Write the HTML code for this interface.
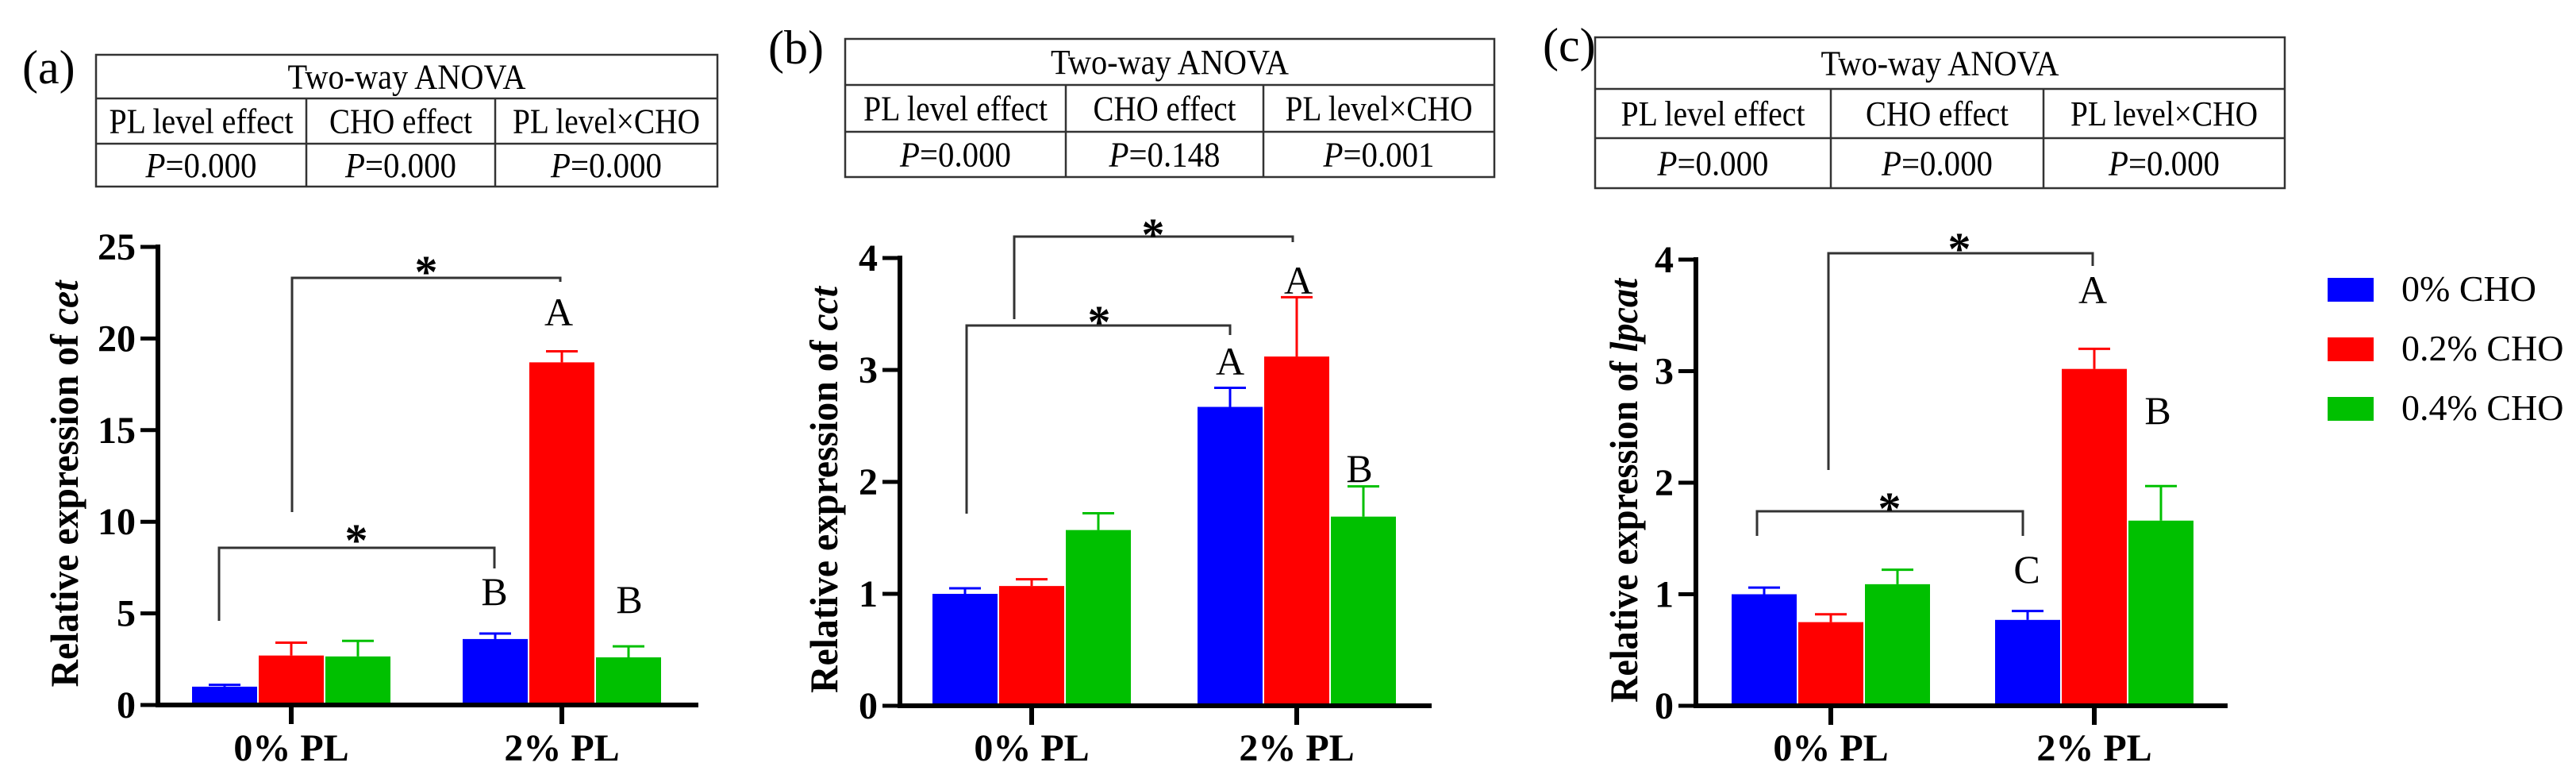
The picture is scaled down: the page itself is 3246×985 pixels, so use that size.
<!DOCTYPE html>
<html><head><meta charset="utf-8">
<style>
html,body{margin:0;padding:0;background:#fff;}
svg{display:block;font-family:"Liberation Serif","Times New Roman",serif;}
</style></head>
<body>
<svg id="fig" width="3246" height="985" viewBox="0 0 3246 985" xmlns="http://www.w3.org/2000/svg">
<g id="tables"></g>
<g id="charts"></g>
<g id="legend">
  <rect x="2933" y="350" width="58" height="30" fill="#0000ff"/>
  <text x="3026" y="379" font-size="46">0% CHO</text>
  <rect x="2933" y="425" width="58" height="30" fill="#ff0000"/>
  <text x="3026" y="454" font-size="46">0.2% CHO</text>
  <rect x="2933" y="500" width="58" height="30" fill="#00c000"/>
  <text x="3026" y="529" font-size="46">0.4% CHO</text>
</g>
</svg>
<script>
const categories = ["0% PL", "2% PL"];
const seriesNames = ["0% CHO", "0.2% CHO", "0.4% CHO"];
const colors = ["#0000ff", "#ff0000", "#00c000"];
// panel a (cet)
const aMeans = [[1.0, 2.7, 2.65], [3.6, 18.7, 2.6]];
const aErr = [[0.1, 0.7, 0.85], [0.3, 0.6, 0.6]];
const aTicks = [0, 5, 10, 15, 20, 25];
// panel b (cct)
const bMeans = [[1.0, 1.07, 1.57], [2.67, 3.12, 1.69]];
const bErr = [[0.05, 0.06, 0.15], [0.17, 0.53, 0.27]];
const bTicks = [0, 1, 2, 3, 4];
// panel c (lpcat)
const cMeans = [[1.0, 0.75, 1.09], [0.77, 3.02, 1.66]];
const cErr = [[0.06, 0.07, 0.13], [0.08, 0.18, 0.31]];
const cTicks = [0, 1, 2, 3, 4];
const anovaA = ["P=0.000", "P=0.000", "P=0.000"];
const anovaB = ["P=0.000", "P=0.148", "P=0.001"];
const anovaC = ["P=0.000", "P=0.000", "P=0.000"];

const NS = "http://www.w3.org/2000/svg";
function mk(parent, tag, attrs, txt){
  const e = document.createElementNS(NS, tag);
  for (const k in attrs) e.setAttribute(k, attrs[k]);
  if (txt !== undefined) e.textContent = txt;
  parent.appendChild(e);
  return e;
}

const panels = [
  {id:"a", label:"(a)", lx:28, ly:105, gene:"cet", means:aMeans, err:aErr, ticks:aTicks, max:25,
   ax:199, x1:880, y0:888, yTop:311, cx:[367,708], ytx:81, p:anovaA, tlen:512,
   tbl:{l:121,r:904,t:69,r1:124,r2:181,b:235,c1:386,c2:624},
   br:[{x1:368,x2:706,y:350,l1:645,l2:355,sx:537,sy:330},{x1:276,x2:623,y:690,l1:782,l2:716,sx:449,sy:668}],
   letters:[[704,410,"A"],[623,762,"B"],[793,772,"B"]]},
  {id:"b", label:"(b)", lx:968, ly:80, gene:"cct", means:bMeans, err:bErr, ticks:bTicks, max:4,
   ax:1134, x1:1804, y0:889, yTop:325, cx:[1300,1634], ytx:1038, p:anovaB, tlen:512,
   tbl:{l:1065,r:1883,t:49,r1:107,r2:166,b:223,c1:1343,c2:1592},
   br:[{x1:1278,x2:1629,y:298,l1:402,l2:305,sx:1453,sy:283},{x1:1218,x2:1550,y:410,l1:647,l2:422,sx:1385,sy:393}],
   letters:[[1550,472,"A"],[1636,370,"A"],[1713,607,"B"]]},
  {id:"c", label:"(c)", lx:1944, ly:77, gene:"lpcat", means:cMeans, err:cErr, ticks:cTicks, max:4,
   ax:2137, x1:2807, y0:889, yTop:327, cx:[2307,2639], ytx:2046, p:anovaC, tlen:534,
   tbl:{l:2010,r:2879,t:47,r1:112,r2:174,b:237,c1:2307,c2:2575},
   br:[{x1:2304,x2:2637,y:319,l1:592,l2:335,sx:2469,sy:301},{x1:2214,x2:2549,y:644,l1:675,l2:675,sx:2381,sy:628}],
   letters:[[2637,382,"A"],[2719,534,"B"],[2554,734,"C"]]}
];

const tables = document.getElementById("tables");
const charts = document.getElementById("charts");
const barW = 82, gap = 2;

panels.forEach(P => {
  const lab = mk(charts, "text", {x:P.lx, y:P.ly, "font-size":60}, P.label);
  
  

  // ANOVA table
  const T = P.tbl;
  const tg = mk(tables, "g", {});
  
  
  const ls = {stroke:"#333", "stroke-width":2.5, fill:"none"};
  mk(tg, "rect", Object.assign({x:T.l, y:T.t, width:T.r-T.l, height:T.b-T.t}, ls));
  mk(tg, "line", Object.assign({x1:T.l, x2:T.r, y1:T.r1, y2:T.r1}, ls));
  mk(tg, "line", Object.assign({x1:T.l, x2:T.r, y1:T.r2, y2:T.r2}, ls));
  mk(tg, "line", Object.assign({x1:T.c1, x2:T.c1, y1:T.r1, y2:T.b}, ls));
  mk(tg, "line", Object.assign({x1:T.c2, x2:T.c2, y1:T.r1, y2:T.b}, ls));
  const fs = 44;
  mk(tg, "text", {x:(T.l+T.r)/2, y:(T.t+T.r1)/2+15, "text-anchor":"middle", "font-size":fs, textLength:300, lengthAdjust:"spacingAndGlyphs"}, "Two-way ANOVA");
  const cols = [[T.l,T.c1],[T.c1,T.c2],[T.c2,T.r]];
  const heads = ["PL level effect", "CHO effect", "PL level×CHO"];
  const hlen = [232, 180, 236];
  cols.forEach((c,i) => {
    const cx = (c[0]+c[1])/2;
    mk(tg, "text", {x:cx, y:(T.r1+T.r2)/2+15, "text-anchor":"middle", "font-size":fs, textLength:hlen[i], lengthAdjust:"spacingAndGlyphs"}, heads[i]);
    const t = mk(tg, "text", {x:cx, y:(T.r2+T.b)/2+15, "text-anchor":"middle", "font-size":fs, textLength:140, lengthAdjust:"spacingAndGlyphs"});
    mk(t, "tspan", {"font-style":"italic"}, P.p[i].charAt(0));
    mk(t, "tspan", {}, P.p[i].slice(1));
  });

  const g = mk(charts, "g", {});
  
  
  const yS = v => P.y0 - (v / P.max) * (P.y0 - P.yTop);

  categories.forEach((cat, ci) => {
    seriesNames.forEach((s, si) => {
      const v = P.means[ci][si], e = P.err[ci][si];
      const bx = P.cx[ci] + (si - 1) * (barW + gap) - barW/2;
      const er = mk(g, "g", {});
      
      
      mk(er, "line", {x1:bx+barW/2, x2:bx+barW/2, y1:yS(v), y2:yS(v+e), stroke:colors[si], "stroke-width":3});
      mk(er, "line", {x1:bx+barW/2-20, x2:bx+barW/2+20, y1:yS(v+e), y2:yS(v+e), stroke:colors[si], "stroke-width":3});
      const r = mk(g, "rect", {x:bx, y:yS(v), width:barW, height:P.y0 - yS(v), fill:colors[si]});
      
      
    });
  });

  const ya = mk(g, "line", {x1:P.ax, x2:P.ax, y1:P.yTop-3, y2:P.y0+3, stroke:"#000", "stroke-width":6});
  
  
  const xa = mk(g, "line", {x1:P.ax-3, x2:P.x1, y1:P.y0, y2:P.y0, stroke:"#000", "stroke-width":6});
  
  
  P.ticks.forEach(t => {
    mk(g, "line", {x1:P.ax-22, x2:P.ax, y1:yS(t), y2:yS(t), stroke:"#000", "stroke-width":5});
    const tl = mk(g, "text", {x:P.ax-28, y:yS(t)+16, "text-anchor":"end", "font-size":48, "font-weight":"bold"}, String(t));
    
    
  });
  categories.forEach((c, ci) => {
    mk(g, "line", {x1:P.cx[ci], x2:P.cx[ci], y1:P.y0, y2:P.y0+24, stroke:"#000", "stroke-width":6});
    const xl = mk(g, "text", {x:P.cx[ci], y:958, "text-anchor":"middle", "font-size":48, "font-weight":"bold"}, c);
    
    
  });
  const yt = mk(g, "text", {x:0, y:0, "text-anchor":"middle", "font-size":50, "font-weight":"bold",
     textLength:P.tlen, lengthAdjust:"spacingAndGlyphs",
     transform:"translate(" + (P.ytx+17) + "," + ((P.y0+P.yTop)/2 + 10) + ") rotate(-90)"});
  
  
  mk(yt, "tspan", {}, "Relative expression of ");
  mk(yt, "tspan", {"font-style":"italic"}, P.gene);

  P.br.forEach((b, bi) => {
    const bg = mk(g, "g", {});
    
    
    mk(bg, "polyline", {points: b.x1+","+b.l1+" "+b.x1+","+b.y+" "+b.x2+","+b.y+" "+b.x2+","+b.l2,
       fill:"none", stroke:"#333", "stroke-width":3});
    mk(bg, "text", {x:b.sx, y:b.sy+32, "text-anchor":"middle", "font-size":58, "font-weight":"bold"}, "*");
  });
  P.letters.forEach((L, li) => {
    const lt = mk(g, "text", {x:L[0], y:L[1], "text-anchor":"middle", "font-size":50}, L[2]);
    
    
  });
});
</script>
</body></html>
